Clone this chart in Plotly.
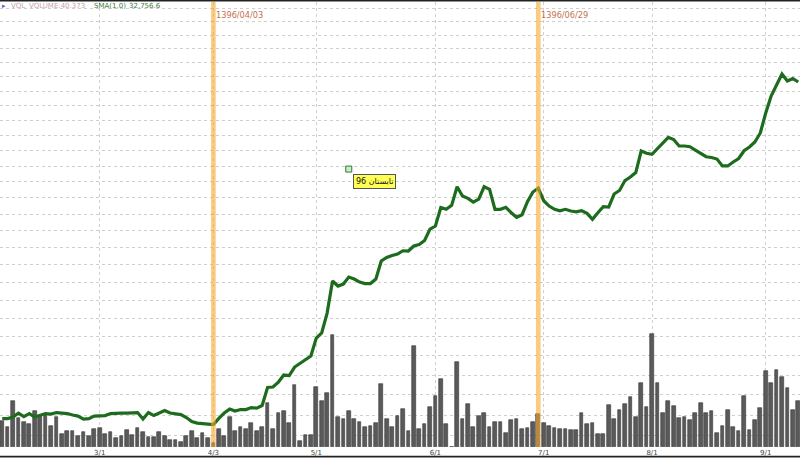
import math
import plotly.graph_objects as go

# ---- data ----
volume = [
    23.2, 17.7, 40.6, 25.9, 22.1, 20.3, 31.5, 27.7, 28.5, 18.3,
    26.2, 11.2, 13.9, 14.4, 9.5, 13.5, 10.0, 15.6, 16.8, 11.2,
    13.0, 7.7, 9.5, 15.3, 10.6, 16.5, 13.0, 9.1, 9.1, 13.5,
    10.0, 5.9, 5.9, 4.2, 10.0, 13.9, 7.7, 12.5, 8.0, 3.8,
    15.5, 9.5, 26.2, 13.7, 17.5, 15.7, 20.9, 14.0, 17.9, 38.6,
    15.5, 30.3, 32.2, 20.9, 54.6, 5.1, 10.4, 11.0, 52.7, 40.5,
    48.1, 98.8, 26.2, 25.0, 32.2, 25.0, 21.8, 17.7, 18.3, 21.5,
    55.9, 25.0, 17.9, 27.8, 33.6, 13.7, 88.8, 15.6, 19.9, 35.1,
    45.3, 59.8, 20.3, 0.0, 75.5, 24.5, 38.3, 17.7, 27.6, 29.8,
    17.7, 21.8, 22.5, 12.6, 24.1, 25.0, 15.6, 17.2, 21.8, 29.3,
    21.6, 18.4, 17.0, 15.6, 15.6, 15.0, 15.2, 30.0, 20.5, 21.6,
    11.7, 11.7, 36.7, 25.0, 33.1, 38.2, 44.0, 26.3, 56.5, 35.1,
    100.1, 56.2, 30.0, 40.9, 36.0, 25.6, 26.8, 23.6, 29.8, 39.1,
    30.0, 32.1, 12.4, 18.8, 33.0, 17.4, 13.9, 44.8, 14.8, 23.6,
    34.7, 67.1, 56.3, 68.3, 61.8, 51.9, 33.0, 40.373,
]

price = [
    22856, 22856, 22893, 22991, 22905, 22979, 22893, 22942, 22979, 22966,
    23003, 22991, 22979, 22942, 22917, 22844, 22856, 22917, 22930, 22930,
    22979, 22991, 22991, 22991, 23003, 23003, 22844, 23003, 22930, 22991,
    23052, 22991, 22966, 22954, 22881, 22783, 22746, 22729, 22722, 22710,
    22860, 22991, 23089, 23040, 23077, 23077, 23126, 23114, 23176, 23629,
    23641, 23766, 23945, 23932, 24151, 24255, 24359, 24439, 24912, 25046,
    25586, 26477, 26336, 26392, 26590, 26533, 26448, 26406, 26406, 26533,
    27051, 27152, 27209, 27253, 27349, 27341, 27488, 27532, 27650, 27991,
    28081, 28642, 28588, 28710, 29286, 28997, 28926, 28811, 28904, 29286,
    29206, 28588, 28588, 28648, 28483, 28344, 28423, 28821, 29122, 29238,
    28851, 28688, 28588, 28544, 28588, 28535, 28513, 28544, 28466, 28283,
    28483, 28667, 28657, 29059, 29169, 29481, 29592, 29735, 30426, 30352,
    30319, 30492, 30689, 30877, 30803, 30590, 30590, 30567, 30459, 30345,
    30242, 30216, 30167, 29944, 29944, 30071, 30184, 30436, 30557, 30721,
    31019, 31690, 32270, 32652, 33038, 32790, 32880, 32756.6,
]

tick_index = [18, 39, 58, 80, 100, 120, 141]
tick_text = ["3/1", "4/3", "5/1", "6/1", "7/1", "8/1", "9/1"]

event_index = [39, 99]
event_text = ["1396/04/03", "1396/06/29"]

note_index = [64]
note_price = [29845]
note_text = "\u202bتابستان 96\u202c"

idx = list(range(len(price)))

fig = go.Figure()

fig.add_trace(go.Bar(
    x=idx, y=volume, yaxis="y",
    marker=dict(color="#5a5a5a", line=dict(color="#363636", width=0.6)),
    width=0.68, hoverinfo="skip", showlegend=False,
))

fig.add_trace(go.Scatter(
    x=idx, y=price, yaxis="y2", mode="lines",
    line=dict(color="#1d6b1d", width=3.2),
    showlegend=False,
))

fig.add_trace(go.Scatter(
    x=note_index, y=note_price, yaxis="y2", mode="markers",
    marker=dict(symbol="square", size=6, color="#c9efc9",
                line=dict(color="#2e7d32", width=1)),
    showlegend=False,
))

shapes = []
for ei in event_index:
    shapes.append(dict(type="rect", xref="x", yref="paper",
                       x0=ei - 0.43, x1=ei + 0.43, y0=0, y1=1,
                       fillcolor="rgba(246,170,45,0.6)", line=dict(width=0),
                       layer="above"))
# frame lines (top and bottom)
shapes.append(dict(type="line", xref="paper", yref="paper", x0=0, x1=1,
                   y0=1 + 1.2 / 445, y1=1 + 1.2 / 445,
                   line=dict(color="#222222", width=1.6)))
shapes.append(dict(type="line", xref="paper", yref="paper", x0=0, x1=1,
                   y0=-9.6 / 445, y1=-9.6 / 445,
                   line=dict(color="#222222", width=1.6)))

annotations = []
for ei, et in zip(event_index, event_text):
    annotations.append(dict(x=ei, xref="x", y=1 - 13 / 445, yref="paper",
                            text=et, showarrow=False, xanchor="left",
                            yanchor="middle", xshift=1,
                            font=dict(family="DejaVu Sans", size=8.2,
                                      color="#c4704c")))

hdr = [
    (0, "▸", "#6a5acd"),
    (9, "VOL", "#c9a0ad"),
    (27, "VOLUME:40.373", "#c9a0ad"),
    (92, "SMA(1,0)", "#3e7a3e"),
    (127, "32,756.6", "#3e7a3e"),
]
for px, t, c in hdr:
    annotations.append(dict(x=px / 800, xref="paper", y=1 - 4 / 445, yref="paper",
                            text=t, showarrow=False, xanchor="left",
                            yanchor="middle",
                            font=dict(family="DejaVu Sans", size=7, color=c)))

annotations.append(dict(
    x=note_index[0], y=math.log10(note_price[0]), xref="x", yref="y2",
    text=note_text, showarrow=True, arrowhead=0, arrowwidth=1,
    arrowcolor="#555555", ax=26, ay=12, standoff=3,
    bgcolor="#ffff55", bordercolor="#555555", borderwidth=1, borderpad=2,
    font=dict(family="DejaVu Sans", size=8, color="#111111"),
))

fig.update_layout(
    width=800, height=458,
    margin=dict(l=0, r=0, t=2, b=11),
    paper_bgcolor="white", plot_bgcolor="white",
    bargap=0,
    xaxis=dict(range=[-0.412, 147.33], tickmode="array",
               tickvals=tick_index, ticktext=tick_text,
               showgrid=True, gridcolor="#cfcfcf", griddash="dot", gridwidth=1,
               zeroline=False, showline=False, ticks="",
               tickfont=dict(family="DejaVu Sans", size=7, color="#444444")),
    yaxis=dict(range=[0, 393.1], visible=False, showgrid=False, fixedrange=True),
    yaxis2=dict(type="log", overlaying="y", side="right",
                range=[4.34580, 4.55246],
                tick0=22940, dtick="L500",
                showgrid=True, gridcolor="#cfcfcf", griddash="dot", gridwidth=1,
                showticklabels=False, zeroline=False, showline=False, ticks=""),
    shapes=shapes,
    annotations=annotations,
    showlegend=False,
)

fig.write_html("out.html",
               config={"displayModeBar": False},
               post_script="document.body.style.margin='0';document.body.style.padding='0';")
